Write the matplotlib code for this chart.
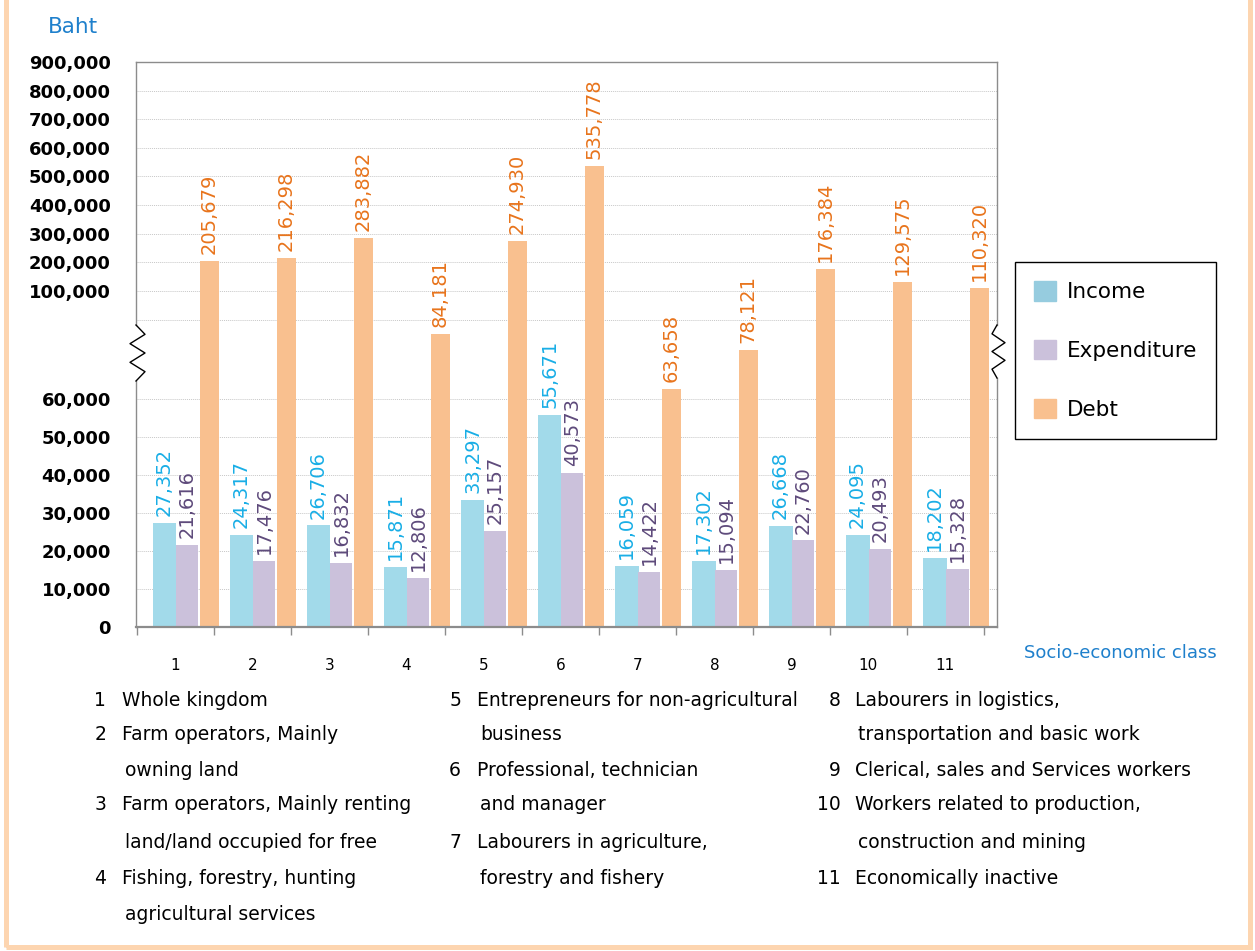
import numpy as np
import matplotlib.pyplot as plt
from matplotlib.patches import Patch, Rectangle

# data
classes = [str(i) for i in range(1, 12)]
income = [27352, 24317, 26706, 15871, 33297, 55671, 16059, 17302, 26668, 24095, 18202]
expenditure = [21616, 17476, 16832, 12806, 25157, 40573, 14422, 15094, 22760, 20493, 15328]
debt = [205679, 216298, 283882, 84181, 274930, 535778, 63658, 78121, 176384, 129575, 110320]

yticks = [0, 10000, 20000, 30000, 40000, 50000, 60000,
          100000, 200000, 300000, 400000, 500000, 600000, 700000, 800000, 900000]
grid_vals = [10000, 20000, 30000, 40000, 50000, 60000,
             100000, 200000, 300000, 400000, 500000, 600000, 700000, 800000]

descriptions = [
    ["1", "Whole kingdom"],
    ["2", "Farm operators, Mainly"],
    ["", "owning land"],
    ["3", "Farm operators, Mainly renting"],
    ["", "land/land occupied for free"],
    ["4", "Fishing, forestry, hunting"],
    ["", "agricultural services"],
]
descriptions2 = [
    ["5", "Entrepreneurs for non-agricultural"],
    ["", "business"],
    ["6", "Professional, technician"],
    ["", "and manager"],
    ["7", "Labourers in agriculture,"],
    ["", "forestry and fishery"],
]
descriptions3 = [
    ["8", "Labourers in logistics,"],
    ["", "transportation and basic work"],
    ["9", "Clerical, sales and Services workers"],
    ["10", "Workers related to production,"],
    ["", "construction and mining"],
    ["11", "Economically inactive"],
]

W, H = 1255, 951

# broken axis: piecewise linear scale (lower 0-60k, squeezed gap, upper 100k-900k)
brk_in = [-1e6, 0, 60000, 100000, 900000, 2e6]
brk_out = [-3800, 0, 228, 336, 564.8, 564.8 + 1.1e6 * 0.000286]


def fwd(v):
    return np.interp(v, brk_in, brk_out)


def inv(v):
    return np.interp(v, brk_out, brk_in)


fig = plt.figure(figsize=(W / 100, H / 100), dpi=100)
ax = fig.add_axes([136 / W, 1 - 627 / H, 861 / W, 565 / H])
ax.set_yscale('function', functions=(fwd, inv))
ax.set_ylim(0, 900000)
ax.set_xlim(-0.51, 10.67)

c_inc, c_exp, c_debt = '#A2DAEA', '#CBC1DB', '#F9C08F'
t_inc, t_exp, t_debt = '#19AEE6', '#5E4A7B', '#E8741C'

for g in grid_vals:
    ax.axhline(g, color='#C8C8C8', lw=0.7, ls=(0, (1, 1)), zorder=0)
ax.plot([0, 1], [307.4 / 565] * 2, transform=ax.transAxes, color='#C8C8C8',
        lw=0.7, ls=(0, (1, 1)), zorder=0)

x = np.arange(len(classes))
ax.bar(x - 0.14, income, 0.31, color=c_inc, zorder=2)
ax.bar(x + 0.155, expenditure, 0.29, color=c_exp, zorder=2)
ax.bar(x + 0.44, debt, 0.245, color=c_debt, zorder=2)

for vals, off, col in [(income, -0.14, t_inc), (expenditure, 0.155, t_exp), (debt, 0.44, t_debt)]:
    for xi, v in zip(x, vals):
        ax.annotate(f"{v:,}", (xi + off, v), xytext=(0, 5), textcoords='offset points',
                    rotation=90, ha='center', va='bottom', color=col, fontsize=14)

# y axis
ax.set_yticks(yticks)
ax.set_yticklabels([f"{t:,}" for t in yticks], fontsize=13, fontweight='bold')
ax.yaxis.set_minor_locator(plt.NullLocator())
ax.tick_params(axis='y', length=0, pad=18)

# x axis: ticks at group boundaries, labels at centres
ax.set_xticks(np.arange(-0.5, 11, 1))
ax.set_xticklabels([])
ax.set_xticks(x, minor=True)
ax.set_xticklabels(classes, minor=True, fontsize=11)
ax.tick_params(axis='x', which='major', length=6, width=1, color='#8C8C8C', direction='out')
ax.tick_params(axis='x', which='minor', length=0, pad=22)

ax.spines['top'].set_color('#8C8C8C')
ax.spines['top'].set_linewidth(1)
ax.spines['bottom'].set_color('#8C8C8C')
ax.spines['bottom'].set_linewidth(1.6)
ax.spines['left'].set_visible(False)
ax.spines['right'].set_visible(False)

# left & right axis lines with zigzag breaks
lo_l, hi_l = (627 - 381) / 565, (627 - 325) / 565
ax.plot([0, 0], [0, lo_l], transform=ax.transAxes, color='#8C8C8C', lw=1, clip_on=False)
ax.plot([0, 0], [hi_l, 1], transform=ax.transAxes, color='#8C8C8C', lw=1, clip_on=False)
zx = np.array([0, 9, -6, 9, -6, 9, 0]) / 861
zy = np.linspace(hi_l, lo_l, 7)
ax.plot(zx, zy, transform=ax.transAxes, color='black', lw=1, clip_on=False)

lo_r, hi_r = (627 - 378) / 565, (627 - 325) / 565
ax.plot([1, 1], [0, lo_r], transform=ax.transAxes, color='#8C8C8C', lw=1, clip_on=False)
ax.plot([1, 1], [hi_r, 1], transform=ax.transAxes, color='#8C8C8C', lw=1, clip_on=False)
zx = 1 + np.array([0, -5, 8, -5, 8, -5, 0]) / 861
zy = np.linspace(hi_r, lo_r, 7)
ax.plot(zx, zy, transform=ax.transAxes, color='black', lw=1, clip_on=False)

# legend
handles = [Patch(color='#96CCDF', label='Income'),
           Patch(color=c_exp, label='Expenditure'),
           Patch(color=c_debt, label='Debt')]
leg = fig.legend(handles=handles, loc='upper left', bbox_to_anchor=(1015 / W, 1 - 262 / H),
                 fontsize=15.5, handlelength=1.0, handleheight=1.0, labelspacing=1.75,
                 borderpad=0.9, handletextpad=0.5, borderaxespad=0, fancybox=False,
                 framealpha=1, edgecolor='black')
leg.get_frame().set_linewidth(1.0)

fig.text(73 / W, 1 - 27 / H, 'Baht', ha='center', va='center', color='#1F80CC', fontsize=15.5)
fig.text(1120 / W, 1 - 653 / H, 'Socio-economic class', ha='center', va='center',
         color='#1F80CC', fontsize=13)

rows_y = [700, 735, 770, 805, 842, 879, 914]
for col, num_x, txt_x in [(descriptions, 106, 122), (descriptions2, 461, 477), (descriptions3, 841, 855)]:
    for (num, txt), yy in zip(col, rows_y):
        if num:
            fig.text(num_x / W, 1 - yy / H, num, ha='right', va='center', fontsize=13.5)
        fig.text((txt_x + (0 if num else 3)) / W, 1 - yy / H, txt, ha='left', va='center',
                 fontsize=13.5)

fig.add_artist(Rectangle((6 / W, 4 / H), 1244 / W, 1.2, transform=fig.transFigure,
                         fill=False, ec='#FDD5B0', lw=3.6, clip_on=False))

fig.savefig('out.png', dpi=100)
